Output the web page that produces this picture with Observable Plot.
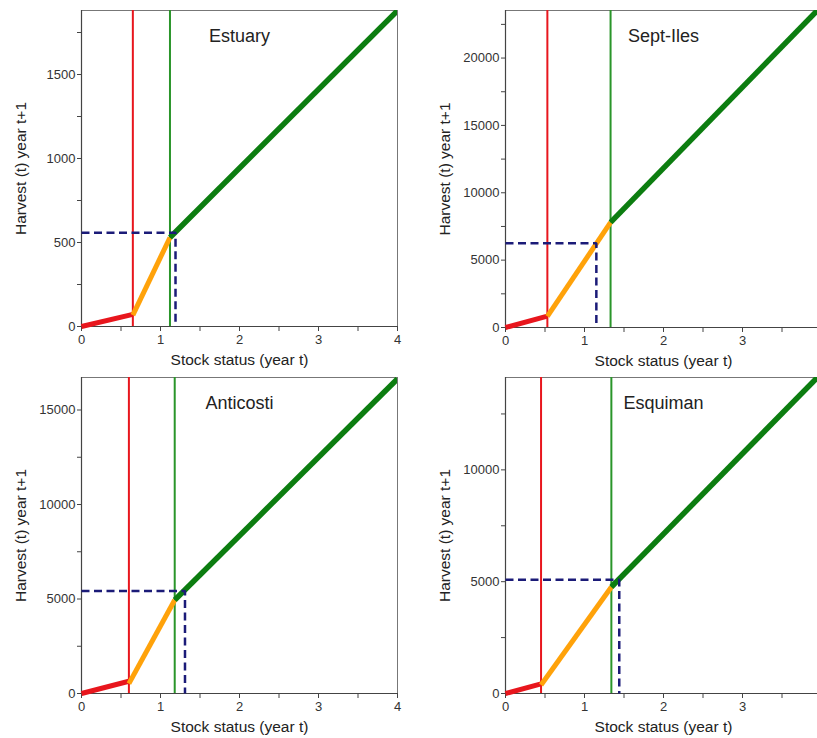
<!DOCTYPE html>
<html>
<head>
<meta charset="utf-8">
<script src="https://cdn.jsdelivr.net/npm/d3@7"></script>
<script src="https://cdn.jsdelivr.net/npm/@observablehq/plot@0.6"></script>
<style>
  html, body { margin: 0; padding: 0; background: #fff; overflow: hidden; }
  #root { position: relative; width: 817px; height: 738px; overflow: hidden; background: #fff; }
  .panel { position: absolute; }
  .panel svg { max-width: none !important; }
</style>
</head>
<body>
<div id="root"></div>
<script>
// ---- data ----
const regions = ["Estuary", "Sept-Iles", "Anticosti", "Esquiman"];
const yMax = [1881, 23530, 16720, 14130];
const yMajorTicks = [[0, 500, 1000, 1500], [0, 5000, 10000, 15000, 20000], [0, 5000, 10000, 15000], [0, 5000, 10000]];
const yMinorTicks = [[250, 750, 1250, 1750], [2500, 7500, 12500, 17500, 22500], [2500, 7500, 12500], [2500, 7500, 12500]];
// right-hand panels are cropped at x≈3.95, so their "4" label is not shown
const xMajorTicks = [[0, 1, 2, 3, 4], [0, 1, 2, 3], [0, 1, 2, 3, 4], [0, 1, 2, 3]];
const xMinorTicks = [0.5, 1.5, 2.5, 3.5];
// limit reference point (red) and upper stock reference (green)
const lrpX = [0.65, 0.53, 0.60, 0.45];
const usrX = [1.12, 1.33, 1.18, 1.34];
// harvest control rule breakpoints
const redEndY = [72, 850, 650, 430];
const orangeStartY = [68, 820, 520, 380];
const orangeEndY = [530, 7800, 4950, 4760];
const greenEndX = [4, 4, 4, 4];
const greenEndY = [1880, 23850, 16650, 14320];
// current status (dashed)
const statusX = [1.19, 1.15, 1.31, 1.44];
const statusY = [558, 6250, 5430, 5090];

// ---- layout ----
const panels = [
  {left: 0, top: 0, width: 410, height: 370, mt: 10, mb: 44, ml: 81, mr: 13},
  {left: 410, top: 0, width: 421, height: 370, mt: 10, mb: 43, ml: 95, mr: 10},
  {left: 0, top: 370, width: 410, height: 368, mt: 7, mb: 45, ml: 81, mr: 13},
  {left: 410, top: 370, width: 421, height: 368, mt: 7, mb: 45, ml: 95, mr: 10}
];

const RED = "#e8161d", ORANGE = "#ffa20a", GREEN = "#0c7d10", GREEN_V = "#2a952a", NAVY = "#1b1b78";
const root = document.getElementById("root");

regions.forEach((name, i) => {
  const p = panels[i];
  const fmt = d3.format("d");
  const chart = Plot.plot({
    width: p.width, height: p.height,
    marginTop: p.mt, marginBottom: p.mb, marginLeft: p.ml, marginRight: p.mr,
    style: {fontFamily: "Liberation Sans, Arial, sans-serif", fontSize: "13px", color: "#333", background: "transparent", overflow: "visible"},
    x: {domain: [0, 4]},
    y: {domain: [0, yMax[i]]},
    marks: [
      Plot.frame({stroke: "#777", strokeWidth: 1}),
      Plot.ruleX([0], {stroke: "#444", strokeWidth: 1.2}),
      Plot.ruleY([0], {stroke: "#444", strokeWidth: 1.2}),
      Plot.axisX({ticks: xMajorTicks[i], tickFormat: fmt, tickSize: 5, tickPadding: 3, label: null, stroke: "#444"}),
      Plot.axisX({ticks: xMinorTicks, tickFormat: () => "", tickSize: 5, label: null, stroke: "#444"}),
      Plot.axisY({ticks: yMajorTicks[i], tickFormat: fmt, tickSize: 4, tickPadding: 2, label: null, stroke: "#444"}),
      Plot.axisY({ticks: yMinorTicks[i], tickFormat: () => "", tickSize: 4, label: null, stroke: "#444"}),
      Plot.ruleX([lrpX[i]], {stroke: RED, strokeWidth: 2}),
      Plot.ruleX([usrX[i]], {stroke: GREEN_V, strokeWidth: 2}),
      Plot.line([[0, 0], [lrpX[i], redEndY[i]]], {stroke: RED, strokeWidth: 5, strokeLinecap: "butt"}),
      Plot.line([[lrpX[i], orangeStartY[i]], [usrX[i], orangeEndY[i]]], {stroke: ORANGE, strokeWidth: 5, strokeLinecap: "butt"}),
      Plot.line([[usrX[i], orangeEndY[i]], [greenEndX[i], greenEndY[i]]], {stroke: GREEN, strokeWidth: 5.5, strokeLinecap: "butt", clip: true}),
      Plot.line([[0, statusY[i]], [statusX[i], statusY[i]], [statusX[i], 0]], {stroke: NAVY, strokeWidth: 2.5, strokeDasharray: "8,4.5", strokeLinejoin: "miter", strokeLinecap: "butt"}),
      Plot.text([name], {text: d => d, x: 2, frameAnchor: "top", lineAnchor: "middle", textAnchor: "middle", dy: 26, fontSize: 18, fill: "#222"}),
      Plot.text(["Stock status (year t)"], {text: d => d, frameAnchor: "bottom", lineAnchor: "middle", textAnchor: "middle", dy: 34, fontSize: 15.5, fill: "#222"}),
      Plot.text(["Harvest (t) year t+1"], {text: d => d, frameAnchor: "left", lineAnchor: "middle", textAnchor: "middle", dx: -60, rotate: -90, fontSize: 15.5, fill: "#222"})
    ]
  });
  const div = document.createElement("div");
  div.className = "panel";
  div.style.left = p.left + "px";
  div.style.top = p.top + "px";
  div.style.width = p.width + "px";
  div.style.height = p.height + "px";
  div.appendChild(chart);
  root.appendChild(div);
});
</script>
</body>
</html>
